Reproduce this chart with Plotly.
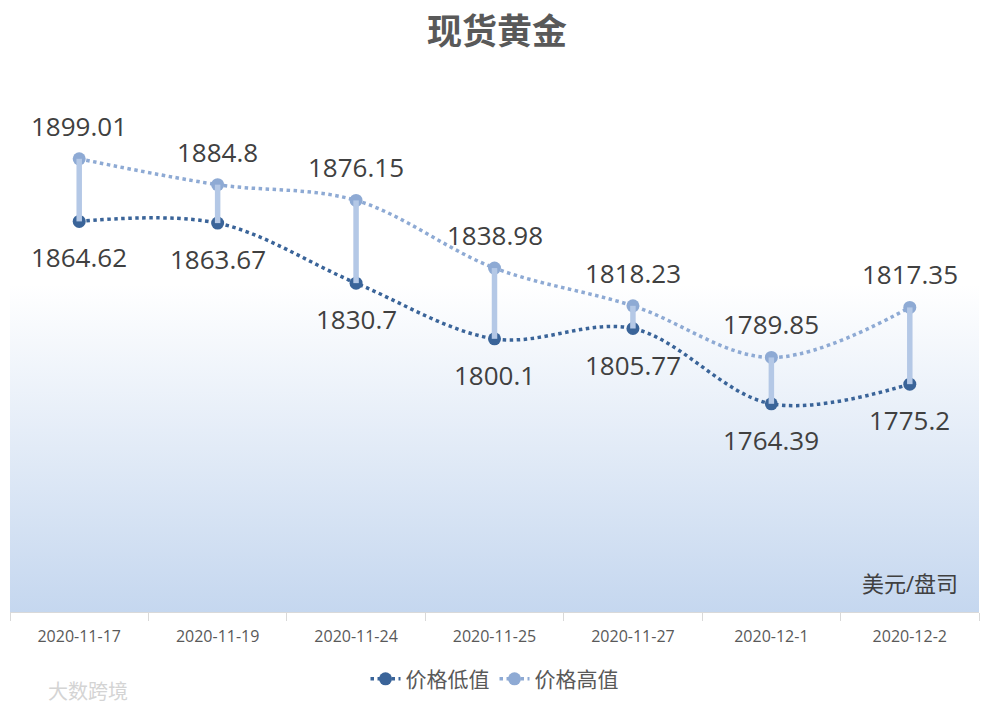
import plotly.graph_objects as go

dates = ["2020-11-17", "2020-11-19", "2020-11-24", "2020-11-25", "2020-11-27", "2020-12-1", "2020-12-2"]
low_values = [1864.62, 1863.67, 1830.7, 1800.1, 1805.77, 1764.39, 1775.2]
high_values = [1899.01, 1884.8, 1876.15, 1838.98, 1818.23, 1789.85, 1817.35]
low_labels = ["1864.62", "1863.67", "1830.7", "1800.1", "1805.77", "1764.39", "1775.2"]
high_labels = ["1899.01", "1884.8", "1876.15", "1838.98", "1818.23", "1789.85", "1817.35"]

Y_MIN, Y_MAX = 1650, 1950
LOW_COLOR = "#3a6499"
HIGH_COLOR = "#8eaad4"
BAR_COLOR = "#b4c8e6"
TEXT = "#404040"
FONT = "Open Sans, Noto Sans CJK SC, sans-serif"

fig = go.Figure()

# gradient plot-area background (on base hidden x axis)
fig.add_trace(go.Scatter(
    x=[0, 1, 1, 0, 0], y=[Y_MIN, Y_MIN, Y_MAX, Y_MAX, Y_MIN],
    xaxis="x", yaxis="y", mode="lines", line=dict(width=0),
    fill="toself",
    fillgradient=dict(type="vertical",
                      colorscale=[[0, "#c5d7ef"], [0.6, "#ffffff"], [1, "#ffffff"]]),
    hoverinfo="skip", showlegend=False,
))

fig.add_trace(go.Scatter(
    x=dates, y=low_values, name="价格低值", mode="lines+markers", xaxis="x2", yaxis="y",
    line=dict(color=LOW_COLOR, width=3.5, dash="dot", shape="spline", smoothing=1),
    marker=dict(color=LOW_COLOR, size=13),
))
fig.add_trace(go.Scatter(
    x=dates, y=high_values, name="价格高值", mode="lines+markers", xaxis="x2", yaxis="y",
    line=dict(color=HIGH_COLOR, width=3.5, dash="dot", shape="spline", smoothing=1),
    marker=dict(color=HIGH_COLOR, size=13),
))

# high-low lines
hx, hy = [], []
for d, lo, hi in zip(dates, low_values, high_values):
    hx += [d, d, None]
    hy += [lo, hi, None]
fig.add_trace(go.Scatter(
    x=hx, y=hy, mode="lines", xaxis="x2", yaxis="y",
    line=dict(color=BAR_COLOR, width=5.5),
    hoverinfo="skip", showlegend=False,
))

annotations = []
for d, v, t in zip(dates, high_values, high_labels):
    annotations.append(dict(x=d, y=v, xref="x2", yref="y", text=t, showarrow=False,
                            yshift=33, font=dict(size=26, color=TEXT, family=FONT)))
for d, v, t in zip(dates, low_values, low_labels):
    annotations.append(dict(x=d, y=v, xref="x2", yref="y", text=t, showarrow=False,
                            yshift=-36, font=dict(size=26, color=TEXT, family=FONT)))
annotations.append(dict(x=0.98, y=1666, xref="paper", yref="y", text="美元/盘司",
                        showarrow=False, xanchor="right", yanchor="middle",
                        font=dict(size=22, color=TEXT, family=FONT)))
annotations.append(dict(x=0.08, y=-0.1465, xref="paper", yref="paper", text="大数跨境",
                        showarrow=False, xanchor="center", yanchor="middle",
                        font=dict(size=20, color="#d4d4d4", family=FONT)))

fig.update_layout(
    width=994, height=712,
    margin=dict(l=2, r=23, t=58, b=108),
    paper_bgcolor="white", plot_bgcolor="white",
    font=dict(family=FONT, color="#595959"),
    title=dict(text="<b>现货黄金</b>", x=0.492, xanchor="center", y=0.966, yanchor="middle",
               font=dict(size=35, color="#595959", family=FONT)),
    xaxis=dict(range=[0, 1], visible=False, showgrid=False, zeroline=False),
    xaxis2=dict(type="category", overlaying="x", anchor="y", side="bottom",
                tickson="boundaries", ticks="outside", ticklen=8,
                tickcolor="#d9d9d9", showline=True, linecolor="#d9d9d9", linewidth=1,
                showgrid=False, zeroline=False, tickfont=dict(size=16, color="#595959"),
                ticklabelstandoff=10, range=[-0.5, 6.5]),
    yaxis=dict(range=[Y_MIN, Y_MAX], visible=False, showgrid=False, zeroline=False),
    legend=dict(orientation="h", x=0.5, xanchor="center", y=-0.123, yanchor="middle",
                font=dict(size=21, color="#595959", family=FONT)),
    annotations=annotations,
    showlegend=True,
)

fig.write_html("out.html")
